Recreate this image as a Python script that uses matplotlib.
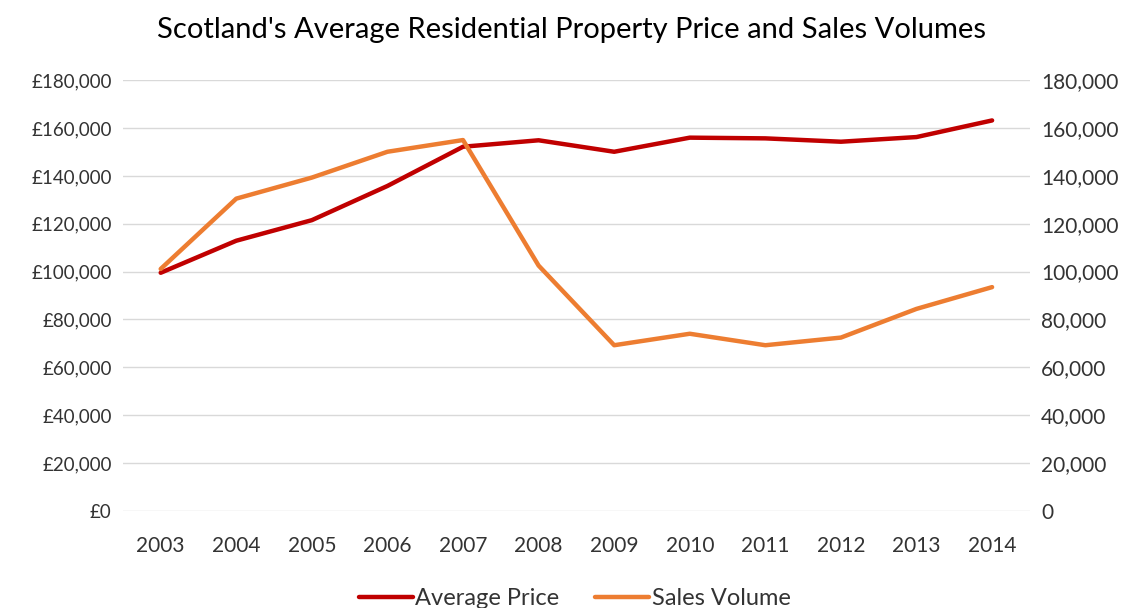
import matplotlib.pyplot as plt
from matplotlib.ticker import FuncFormatter

plt.rcParams['font.family'] = ['Lato', 'DejaVu Sans']

years = ['2003', '2004', '2005', '2006', '2007', '2008', '2009', '2010', '2011', '2012', '2013', '2014']
avg_price = [99500, 112900, 121500, 135800, 152200, 154900, 150100, 156000, 155700, 154300, 156250, 163200]
sales_volume = [101100, 130500, 139300, 150100, 155000, 102500, 69200, 74000, 69200, 72400, 84400, 93500]

fig = plt.figure(figsize=(11.38, 6.08), dpi=100)
ax = fig.add_axes([0.108, 0.160, 0.797, 0.708])
ax2 = ax.twinx()

x = range(len(years))
l1, = ax.plot(x, avg_price, color='#C00000', lw=3.2, solid_capstyle='round', zorder=3)
l2, = ax2.plot(x, sales_volume, color='#ED7D31', lw=3.2, solid_capstyle='round', zorder=3)

for a in (ax, ax2):
    a.set_ylim(0, 180000)
    a.set_yticks(range(0, 180001, 20000))
    a.set_xlim(-0.5, len(years) - 0.5)
    for s in a.spines.values():
        s.set_visible(False)
    a.tick_params(length=0, colors='#333333')

ax.tick_params(axis='y', labelsize=13.5, pad=8)
ax.tick_params(axis='x', labelsize=15, pad=18)
ax2.tick_params(axis='y', labelsize=15, pad=8)

ax.set_xticks(list(x))
ax.set_xticklabels(years)
ax.yaxis.set_major_formatter(FuncFormatter(lambda v, p: f'£{v:,.0f}'))
ax2.yaxis.set_major_formatter(FuncFormatter(lambda v, p: f'{v:,.0f}'))
ax.grid(axis='y', color='#D9D9D9', lw=1)
ax.set_axisbelow(True)

fig.text(0.502, 0.951, "Scotland's Average Residential Property Price and Sales Volumes",
         ha='center', va='center', fontsize=21, color='#000000')

fig.legend([l1, l2], ['Average Price', 'Sales Volume'], loc='center',
           bbox_to_anchor=(0.505, 0.016), ncol=2, frameon=False, fontsize=17,
           handlelength=2.3, handletextpad=0.1, columnspacing=1.5,
           labelcolor='#333333')

fig.savefig('out.png', dpi=100)
